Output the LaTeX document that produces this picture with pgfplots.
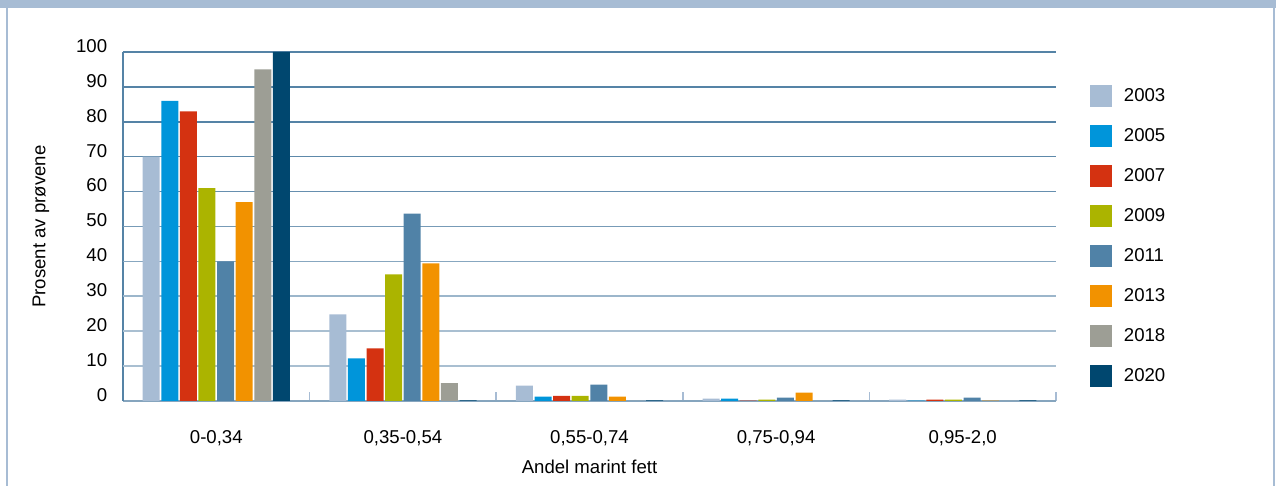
\documentclass[border=0pt]{standalone}
\usepackage{fontspec}
\setmainfont{Liberation Sans}
\usepackage{pgfplots}
\usepackage{pgfplotstable}
\pgfplotsset{compat=1.18}
\definecolor{c2003}{HTML}{A7BCD4}
\definecolor{c2005}{HTML}{0095DA}
\definecolor{c2007}{HTML}{D43211}
\definecolor{c2009}{HTML}{ABB400}
\definecolor{c2011}{HTML}{5082A7}
\definecolor{c2013}{HTML}{F29200}
\definecolor{c2018}{HTML}{9D9E95}
\definecolor{c2020}{HTML}{00476F}
\definecolor{gdark}{HTML}{5583A6}
\definecolor{glight}{HTML}{A9BFD1}
\definecolor{frame}{HTML}{A7BCD4}
\definecolor{axgrey}{HTML}{86A5BE}
\pgfplotstableread{
x y2003 y2005 y2007 y2009 y2011 y2013 y2018 y2020
0 70   86   83   61   40   57   95  100
1 24.8 12.2 15.1 36.3 53.7 39.4 5.1 0.2
2 4.4  1.25 1.5  1.5  4.7  1.25 0   0.2
3 0.7  0.7  0.1  0.4  1.0  2.4  0   0.2
4 0.4  0.1  0.4  0.4  1.0  0.1  0   0.2
}\datatable
\begin{document}
\begin{tikzpicture}
\useasboundingbox (0,0) rectangle (638pt,243pt);
\fill[frame] (0,239pt) rectangle (638pt,243pt);
\draw[frame, line width=0.75pt] (3.5pt,0) -- (3.5pt,239pt);
\draw[frame, line width=0.75pt] (637pt,0) -- (637pt,239pt);
\begin{axis}[
  at={(61.5pt,42.5pt)}, anchor=south west,
  scale only axis, width=466.5pt, height=174.5pt,
  font=\fontsize{9.3}{11}\selectfont,
  /pgf/number format/assume math mode=true,
  ybar=0.8pt, bar width=8.5pt,
  xmin=-0.5, xmax=4.5, ymin=0, ymax=100,
  clip=false,
  axis x line*=bottom, axis y line*=left,
  x axis line style={color=axgrey, line width=1pt, -},
  y axis line style={color=gdark, line width=0.75pt, -},
  xtick={0,1,2,3,4},
  xticklabels={{0-0,34},{0,35-0,54},{0,55-0,74},{0,75-0,94},{0,95-2,0}},
  major x tick style={draw=none},
  minor xtick={0.5,1.5,2.5,3.5,4.5},
  minor x tick style={color=frame, line width=0.8pt},
  minor tick length=4.5pt,
  tick align=inside,
  ytick={0,10,...,100},
  major y tick style={draw=none},
  yticklabel style={xshift=-4.4pt, yshift=3pt},
  xticklabel style={anchor=center, yshift=-18.5pt},
  xlabel={Andel marint fett},
  ylabel={Prosent av prøvene},
  xlabel style={at={(axis description cs:0.5,-0.189)}, anchor=center},
  ylabel style={at={(axis description cs:-0.088,0.5)}, anchor=center},
  legend image code/.code={\fill[#1] (0pt,-5.5pt) rectangle (11pt,5.5pt);},
  legend style={at={(1.0364,0.9054)}, anchor=north west, draw=none, fill=none,
    inner sep=0pt, outer sep=0pt, row sep=9pt, column sep=6pt,
    nodes={inner sep=0pt, outer sep=0pt}},
  legend cell align=left,
]
\draw[color=glight, line width=0.8pt] (axis cs:-0.5,10) -- (axis cs:4.5,10);
\draw[color=glight, line width=0.8pt] (axis cs:-0.5,20) -- (axis cs:4.5,20);
\draw[color=gdark!15!glight, line width=0.8pt] (axis cs:-0.5,30) -- (axis cs:4.5,30);
\draw[color=gdark!40!glight, line width=0.8pt] (axis cs:-0.5,40) -- (axis cs:4.5,40);
\draw[color=gdark!60!glight, line width=0.8pt] (axis cs:-0.5,50) -- (axis cs:4.5,50);
\draw[color=gdark!80!glight, line width=0.8pt] (axis cs:-0.5,60) -- (axis cs:4.5,60);
\draw[color=gdark!90!glight, line width=0.8pt] (axis cs:-0.5,70) -- (axis cs:4.5,70);
\draw[color=gdark, line width=0.8pt] (axis cs:-0.5,80) -- (axis cs:4.5,80);
\draw[color=gdark, line width=0.8pt] (axis cs:-0.5,90) -- (axis cs:4.5,90);
\draw[color=gdark, line width=0.8pt] (axis cs:-0.5,100) -- (axis cs:4.5,100);
\addplot[fill=c2003, draw=none] table[x=x, y=y2003] {\datatable};
\addplot[fill=c2005, draw=none] table[x=x, y=y2005] {\datatable};
\addplot[fill=c2007, draw=none] table[x=x, y=y2007] {\datatable};
\addplot[fill=c2009, draw=none] table[x=x, y=y2009] {\datatable};
\addplot[fill=c2011, draw=none] table[x=x, y=y2011] {\datatable};
\addplot[fill=c2013, draw=none] table[x=x, y=y2013] {\datatable};
\addplot[fill=c2018, draw=none] table[x=x, y=y2018] {\datatable};
\addplot[fill=c2020, draw=none] table[x=x, y=y2020] {\datatable};
\legend{2003,2005,2007,2009,2011,2013,2018,2020}
\end{axis}
\end{tikzpicture}
\end{document}
